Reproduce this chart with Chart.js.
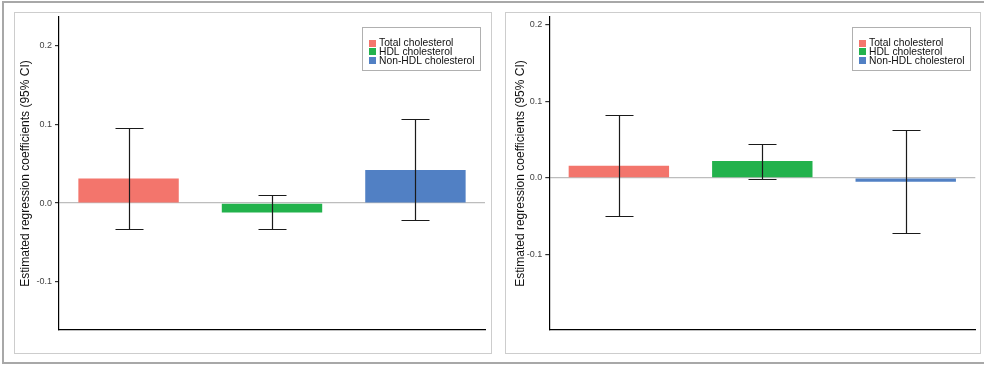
<!DOCTYPE html>
<html>
<head>
<meta charset="utf-8">
<script src="https://cdn.jsdelivr.net/npm/chart.js@4/dist/chart.umd.min.js"></script>
<style>
  html, body { margin: 0; padding: 0; background: #ffffff; }
  body { width: 984px; height: 365px; position: relative; overflow: hidden; }
  .frame { position: absolute; left: 2px; top: 1px; width: 1000px; height: 359px;
           border: 2px solid #a8a8a8; border-right: none; }
  .panel { position: absolute; top: 12px; height: 340px; border: 1px solid #cdcdcd; }
  #panelA { left: 14px; width: 476px; }
  #panelB { left: 505px; width: 474px; }
  canvas { position: absolute; top: 0; }
  #chartA { left: 0; }
  #chartB { left: 495px; }
</style>
</head>
<body>
<div class="frame"></div>
<div class="panel" id="panelA"></div>
<div class="panel" id="panelB"></div>
<canvas id="chartA" width="495" height="365"></canvas>
<canvas id="chartB" width="489" height="365"></canvas>
<script>
// Lipid measures compared in each panel
const categories = ['Total cholesterol', 'HDL cholesterol', 'Non-HDL cholesterol'];

// Panel A: point estimates and 95% confidence limits
const estimatesA = [0.031, -0.012, 0.042];
const lowerA = [-0.033, -0.033, -0.022];
const upperA = [0.095, 0.010, 0.107];
const rangeA = [-0.161, 0.236];

// Panel B: point estimates and 95% confidence limits
const estimatesB = [0.016, 0.022, -0.005];
const lowerB = [-0.049, -0.001, -0.072];
const upperB = [0.082, 0.044, 0.062];
const rangeB = [-0.198, 0.2095];

// Y-axis tick values shared by both panels
const yTicks = [-0.1, 0.0, 0.1, 0.2];

const barColors = ['#f3756c', '#22b24c', '#5180c4'];
const fontFamily = '"Liberation Sans", Arial, sans-serif';

// Whiskers with end caps for the confidence intervals
const errorBars = {
  id: 'errorBars',
  afterDatasetsDraw(chart, args, opts) {
    const ctx = chart.ctx;
    const y = chart.scales.y;
    ctx.save();
    ctx.strokeStyle = '#1a1a1a';
    ctx.lineWidth = 1.2;
    chart.data.datasets.forEach((ds, i) => {
      const el = chart.getDatasetMeta(i).data[0];
      if (!el) return;
      const x = Math.round(el.x) + 0.5;
      const yLo = Math.round(y.getPixelForValue(opts.lower[i])) + 0.5;
      const yHi = Math.round(y.getPixelForValue(opts.upper[i])) + 0.5;
      ctx.beginPath();
      ctx.moveTo(x, yLo); ctx.lineTo(x, yHi);
      ctx.moveTo(x - 14, yLo); ctx.lineTo(x + 14, yLo);
      ctx.moveTo(x - 14, yHi); ctx.lineTo(x + 14, yHi);
      ctx.stroke();
    });
    ctx.restore();
  }
};

// Boxed key in the upper right of the plotting area
const boxedLegend = {
  id: 'boxedLegend',
  afterDraw(chart) {
    const ctx = chart.ctx;
    const area = chart.chartArea;
    const w = 118, h = 43;
    const left = Math.round(area.right - 5 - w) + 0.5;
    const top = Math.round(area.top + 10) + 0.5;
    ctx.save();
    ctx.fillStyle = '#ffffff';
    ctx.fillRect(left, top, w, h);
    ctx.strokeStyle = '#b0b0b0';
    ctx.lineWidth = 1;
    ctx.strokeRect(left, top, w, h);
    ctx.font = '10.3px ' + fontFamily;
    ctx.textBaseline = 'middle';
    ctx.textAlign = 'left';
    chart.data.datasets.forEach((ds, i) => {
      const cy = top + 15.5 + i * 8.7;
      ctx.fillStyle = ds.backgroundColor;
      ctx.fillRect(Math.round(left + 6.5), Math.round(cy - 3.5), 7, 7);
      ctx.fillStyle = '#111111';
      ctx.fillText(ds.label, left + 16.5, cy + 0.5);
    });
    ctx.restore();
  }
};

function buildChart(canvasId, estimates, lower, upper, range, padLeft, axisWidth, padRight) {
  // one bar per dataset, placed at its category's index on the x scale
  const datasets = categories.map((name, i) => ({
    label: name,
    data: [{ x: i, y: estimates[i] }],
    backgroundColor: barColors[i],
    borderWidth: 0,
    barPercentage: 0.70,
    categoryPercentage: 1.0
  }));
  return new Chart(document.getElementById(canvasId), {
    type: 'bar',
    data: { datasets },
    options: {
      responsive: false,
      animation: false,
      events: [],
      layout: { padding: { left: padLeft, right: padRight, top: 17, bottom: 35 } },
      plugins: {
        legend: { display: false },
        tooltip: { enabled: false },
        errorBars: { lower, upper }
      },
      scales: {
        x: {
          type: 'linear',
          stacked: true,
          offset: false,
          min: -0.485,
          max: categories.length - 1 + 0.485,
          afterBuildTicks(scale) { scale.ticks = categories.map((c, i) => ({ value: i })); },
          ticks: { display: false },
          grid: { display: false, drawTicks: false },
          border: { display: true, color: '#000000', width: 1.2 }
        },
        y: {
          stacked: false,
          min: range[0],
          max: range[1],
          afterBuildTicks(scale) { scale.ticks = yTicks.map(v => ({ value: v })); },
          afterFit(scale) { scale.width = axisWidth; },
          ticks: {
            color: '#444444',
            padding: 3,
            font: { family: fontFamily, size: 9 },
            callback: v => v.toFixed(1)
          },
          grid: {
            drawTicks: true,
            tickLength: 4,
            tickColor: '#333333',
            color: c => (c.tick && Math.abs(c.tick.value) < 1e-9 ? '#bdbdbd' : 'rgba(0,0,0,0)'),
            lineWidth: 1.2
          },
          border: { display: true, color: '#000000', width: 1.2 },
          title: {
            display: true,
            text: 'Estimated regression coefficients (95% CI)',
            color: '#111111',
            font: { family: fontFamily, size: 12 },
            padding: { top: 4, bottom: 0 }
          }
        }
      }
    },
    plugins: [errorBars, boxedLegend]
  });
}

buildChart('chartA', estimatesA, lowerA, upperA, rangeA, 14, 45, 10);
buildChart('chartB', estimatesB, lowerB, upperB, rangeB, 14, 40.3, 8.7);
</script>
</body>
</html>
